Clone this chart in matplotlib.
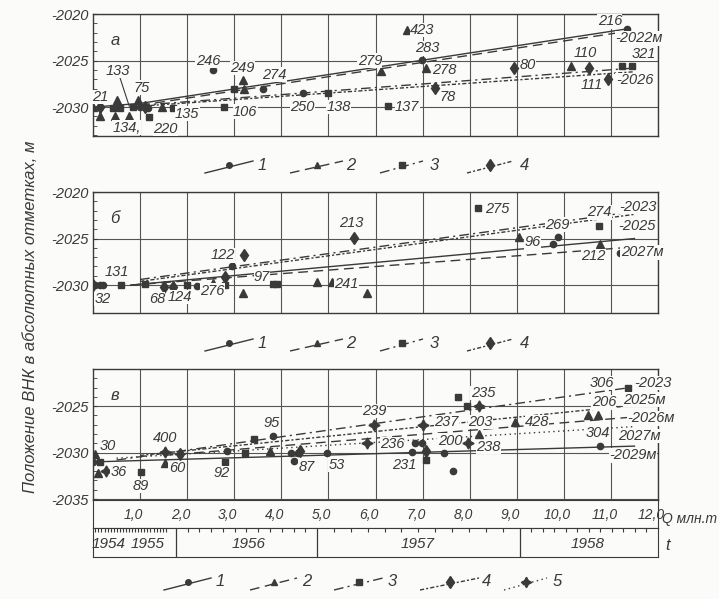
import numpy as np
import matplotlib.pyplot as plt

INK = '#3a3a3a'
BG = '#fbfbf9'
FONT = ['Liberation Sans Narrow', 'Liberation Sans', 'DejaVu Sans']

# --- panel а: points (Q, mln t ; contact level, m)
a1_q = [0.15, 1.0, 1.17, 2.55, 3.6, 4.47, 6.98, 11.34]
a1_h = [-2030.0, -2030.0, -2030.1, -2026.0, -2028.0, -2028.5, -2024.9, -2021.6]
a2_q = [0.0, 0.15, 0.47, 0.5, 0.77, 0.96, 1.46, 3.18, 3.2, 6.11, 6.67, 7.07, 10.15]
a2_h = [-2030.0, -2031.0, -2031.0, -2029.2, -2031.0, -2029.2, -2030.0, -2027.1, -2028.1,
        -2026.1, -2021.7, -2025.8, -2025.6]
a3_q = [0.43, 0.57, 0.85, 1.19, 1.7, 2.78, 3.0, 5.0, 6.27, 11.23, 11.44]
a3_h = [-2030.1, -2030.1, -2030.0, -2031.1, -2030.1, -2030.0, -2028.1, -2028.5, -2029.9,
        -2025.6, -2025.6]
a4_q = [0.15, 1.1, 7.26, 8.94, 10.53, 10.93]
a4_h = [-2030.0, -2030.0, -2027.9, -2025.8, -2025.8, -2027.0]
a_trend_q = {1: [0.0, 1.0, 11.34], 2: [1.0, 11.3], 3: [1.0, 11.5], 4: [1.0, 11.5]}
a_trend_h = {1: [-2030.0, -2029.6, -2021.6], 2: [-2029.8, -2021.9], 3: [-2029.8, -2025.8],
             4: [-2029.9, -2026.2]}
a_labels = [('21', 0.15, -2028.9), ('133', 0.53, -2026.1), ('75', 1.04, -2027.9),
            ('134,', 0.72, -2032.2), ('220', 1.53, -2032.3), ('135', 2.0, -2030.7),
            ('246', 2.44, -2025.0), ('249', 3.18, -2025.8), ('274', 3.86, -2026.5),
            ('106', 3.23, -2030.5), ('250', 4.44, -2030.0), ('138', 5.22, -2030.0),
            ('279', 5.88, -2025.0), ('137', 6.67, -2030.0), ('423', 7.0, -2021.7),
            ('283', 7.09, -2023.7), ('278', 7.47, -2026.0), ('78', 7.54, -2028.9),
            ('80', 9.24, -2025.5), ('110', 10.45, -2024.2), ('111', 10.6, -2027.6),
            ('216', 10.98, -2020.8), ('-2022м', 11.6, -2022.6), ('321', 11.7, -2024.3),
            ('-2026', 11.5, -2027.1)]

# --- panel б
b1_q = [0.05, 0.15, 0.22, 2.2, 2.95, 9.77, 9.88, 11.2]
b1_h = [-2030.0, -2030.0, -2030.0, -2030.1, -2027.9, -2025.6, -2024.8, -2026.5]
b2_q = [2.55, 3.18, 4.76, 5.07, 5.82, 9.05, 10.77]
b2_h = [-2029.8, -2030.9, -2029.7, -2029.7, -2030.8, -2024.8, -2025.6]
b3_q = [0.6, 1.1, 2.0, 2.8, 3.83, 3.9, 8.18, 10.75]
b3_h = [-2030.0, -2029.9, -2030.0, -2030.0, -2029.9, -2029.9, -2021.7, -2023.7]
b4_q = [0.0, 1.5, 1.7, 2.8, 3.2, 5.54]
b4_h = [-2030.0, -2030.2, -2030.2, -2029.1, -2026.8, -2024.9]
b_trend_q = {1: [0.8, 11.5], 2: [0.8, 11.5], 3: [1.0, 11.5], 4: [1.0, 11.5]}
b_trend_h = {1: [-2030.0, -2025.0], 2: [-2030.0, -2025.9], 3: [-2029.4, -2022.1],
             4: [-2029.6, -2022.4]}
b_labels = [('131', 0.51, -2028.6), ('32', 0.21, -2031.5), ('68', 1.36, -2031.5),
            ('124', 1.85, -2031.3), ('276', 2.53, -2030.6), ('122', 2.76, -2026.8),
            ('97', 3.59, -2029.1), ('213', 5.48, -2023.3), ('241', 5.39, -2029.9),
            ('275', 8.58, -2021.8), ('96', 9.34, -2025.4), ('269', 9.87, -2023.5),
            ('274', 10.76, -2022.2), ('212', 10.62, -2026.9), ('-2023', 11.57, -2021.6),
            ('-2025', 11.55, -2023.7), ('2027м', 11.66, -2026.5)]

# --- panel в
c1_q = [0.0, 2.85, 3.82, 4.2, 4.35, 4.27, 4.97, 6.77, 6.84, 6.98, 7.45, 7.65, 10.76]
c1_h = [-2031.0, -2029.8, -2028.2, -2030.0, -2030.0, -2030.9, -2030.0, -2029.9, -2029.0,
        -2029.0, -2030.0, -2032.0, -2029.3]
c2_q = [0.04, 0.1, 1.53, 3.76, 8.2, 8.96, 10.51, 10.72]
c2_h = [-2030.1, -2032.2, -2031.1, -2029.8, -2028.0, -2026.7, -2026.0, -2026.0]
c3_q = [0.15, 1.03, 2.8, 3.23, 3.42, 7.07, 7.75, 7.94, 11.36]
c3_h = [-2031.0, -2032.1, -2031.0, -2030.0, -2028.5, -2030.8, -2024.0, -2025.0, -2023.0]
c4_q = [1.85, 4.4, 7.07]
c4_h = [-2030.2, -2029.8, -2029.8]
c5_q = [0.28, 1.53, 5.82, 5.97, 7.0, 7.96, 8.2]
c5_h = [-2032.0, -2029.9, -2029.0, -2027.0, -2027.0, -2029.0, -2025.0]
c_trend_q = {1: [0.0, 11.5], 2: [1.5, 11.4], 3: [0.5, 11.4], 4: [1.0, 11.3], 5: [0.5, 11.5]}
c_trend_h = {1: [-2031.0, -2029.3], 2: [-2030.3, -2026.2], 3: [-2030.8, -2023.0],
             4: [-2030.3, -2025.0], 5: [-2030.6, -2027.2]}
c_labels = [('30', 0.32, -2029.3), ('36', 0.55, -2032.1), ('89', 1.02, -2033.6),
            ('400', 1.53, -2028.4), ('60', 1.78, -2031.7), ('92', 2.74, -2032.2),
            ('95', 3.8, -2026.8), ('87', 4.54, -2031.6), ('53', 5.18, -2031.3),
            ('239', 5.97, -2025.5), ('236', 6.35, -2029.1), ('231', 6.62, -2031.3),
            ('237', 7.51, -2026.7), ('203', 8.22, -2026.7), ('200', 7.58, -2028.7),
            ('238', 8.39, -2029.4), ('235', 8.28, -2023.6), ('428', 9.43, -2026.7),
            ('306', 10.8, -2022.5), ('-2023', 11.9, -2022.5), ('206', 10.85, -2024.6),
            ('2025м', 11.72, -2024.3), ('-2026м', 11.85, -2026.3), ('304', 10.72, -2027.9),
            ('2027м', 11.6, -2028.2), ('-2029м', 11.47, -2030.3)]

q_ticks = list(range(1, 13))
years = ['1954', '1955', '1956', '1957', '1958']
year_text_q = [0.34, 1.17, 3.3, 6.9, 10.5]
year_bounds_q = [1.76, 4.76, 9.06]

STYLES = {1: '-', 2: (0, (7, 4)), 3: (0, (7, 3, 1.5, 3)), 4: (0, (3, 1.5, 1.5, 1.5)),
          5: (0, (1, 2.5))}
MARKERS = {1: ('o', 4.5), 2: ('^', 5.5), 3: ('s', 4.5), 4: ('d', 6.5), 5: ((4, 1, 0), 8)}

W, H = 719, 599
fig = plt.figure(figsize=(W / 100, H / 100), dpi=100, facecolor=BG)


def px_axes(x0, y0, x1, y1):
    return fig.add_axes([x0 / W, 1 - y1 / H, (x1 - x0) / W, (y1 - y0) / H])


def txt(ax, x, y, s, size=10.5, **kw):
    return ax.text(x, y, s, fontsize=size, family=FONT, style='italic', color=INK, **kw)


def panel(box, ylim, yt, series, trends_q, trends_h, labels, letter):
    ax = px_axes(*box)
    ax.set_facecolor(BG)
    ax.set_xlim(0, 12)
    ax.set_ylim(*ylim)
    for s in ax.spines.values():
        s.set_color(INK)
        s.set_linewidth(1.0)
    ax.set_xticks(q_ticks)
    ax.set_xticklabels([])
    ax.tick_params(axis='x', length=0)
    ax.set_yticks(yt)
    ax.set_yticklabels([str(v) for v in yt], family=FONT, style='italic', fontsize=10.5,
                       color=INK)
    ax.set_yticks(np.arange(np.ceil(ylim[0]), ylim[1] + 0.1, 1), minor=True)
    ax.tick_params(axis='y', which='both', direction='in', length=3, color=INK, pad=3)
    ax.grid(True, color='#555', lw=0.8)
    for k in trends_q:
        ax.plot(trends_q[k], trends_h[k], color=INK, lw=1.0, linestyle=STYLES[k], zorder=3)
    for k, (q, h) in series.items():
        m, ms = MARKERS[k]
        ax.plot(q, h, linestyle='none', marker=m, ms=ms, color=INK, mec=INK, zorder=4)
    for s, q, h in labels:
        t = txt(ax, q, h, s, ha='center', va='center', zorder=5, clip_on=False)
        t.set_bbox(dict(facecolor=BG, edgecolor='none', pad=0.2))
    txt(ax, 0.47, ylim[1] - 2.8, letter, size=12, ha='center', va='center')
    return ax


ax_a = panel((93, 14, 658, 136), (-2033.1, -2020), [-2030, -2025, -2020],
             {1: (a1_q, a1_h), 2: (a2_q, a2_h), 3: (a3_q, a3_h), 4: (a4_q, a4_h)},
             a_trend_q, a_trend_h, a_labels, 'а')
ax_a.plot([0.57, 0.77], [-2026.8, -2029.9], color=INK, lw=0.8)

ax_b = panel((93, 192, 658, 313), (-2033.0, -2020), [-2030, -2025, -2020],
             {1: (b1_q, b1_h), 2: (b2_q, b2_h), 3: (b3_q, b3_h), 4: (b4_q, b4_h)},
             b_trend_q, b_trend_h, b_labels, 'б')

ax_c = panel((93, 369, 658, 500), (-2035.1, -2021.0), [-2035, -2030, -2025],
             {1: (c1_q, c1_h), 2: (c2_q, c2_h), 3: (c3_q, c3_h), 4: (c4_q, c4_h),
              5: (c5_q, c5_h)},
             c_trend_q, c_trend_h, c_labels, 'в')

# Q row
axq = px_axes(93, 500, 658, 528)
axq.set_facecolor(BG)
axq.set_xlim(0, 12)
axq.set_ylim(0, 1)
axq.set_xticks([])
axq.set_yticks([])
for s in axq.spines.values():
    s.set_color(INK)
for q in q_ticks:
    txt(axq, q - 0.14, 0.45, f'{q},0', size=10, ha='center', va='center')

# time row
axt = px_axes(93, 528, 658, 557)
axt.set_facecolor(BG)
axt.set_xlim(0, 12)
axt.set_ylim(0, 1)
axt.set_yticks([])
for s in axt.spines.values():
    s.set_color(INK)
month_ticks = list(np.arange(0.05, 1.6, 0.065))
for e0, e1 in zip(year_bounds_q, year_bounds_q[1:] + [12.0]):
    month_ticks += list(np.linspace(e0, e1, 13)[1:-1])
axt.set_xticks(month_ticks)
axt.set_xticklabels([])
axt.tick_params(axis='x', direction='in', top=True, bottom=False, length=3, color=INK)
for b in year_bounds_q:
    axt.axvline(b, color=INK, lw=0.9)
for y, q in zip(years, year_text_q):
    txt(axt, q, 0.45, y, size=11, ha='center', va='center')

# overlay for legends and outer text (pixel coordinates)
ov = fig.add_axes([0, 0, 1, 1])
ov.set_xlim(0, W)
ov.set_ylim(H, 0)
ov.axis('off')
ov.patch.set_alpha(0)


def legend_row(items, yc):
    for k, (x0, x1, xt) in enumerate(items, start=1):
        ov.plot([x0, x1], [yc + 6, yc - 6], color=INK, lw=1.0, linestyle=STYLES[k])
        m, ms = MARKERS[k]
        ov.plot([(x0 + x1) / 2], [yc - 2], marker=m, ms=ms - 0.5, color=INK)
        txt(ov, xt, yc - 2, str(k), size=12, ha='left', va='center')


legend_row([(205, 253, 258), (290, 343, 346), (380, 423, 430), (467, 513, 520)], 167)
legend_row([(205, 253, 258), (290, 343, 346), (380, 423, 430), (467, 513, 520)], 345)
legend_row([(164, 211, 216), (250, 297, 302), (334, 383, 388), (420, 479, 482),
            (504, 547, 553)], 584)

txt(ov, 31, 317, 'Положение ВНК в абсолютных отметках, м', size=12, rotation=90,
    ha='center', va='center')
txt(ov, 662, 519, 'Q млн.т', size=10, ha='left', va='center')
txt(ov, 665, 545, 't', size=12, ha='left', va='center')

fig.savefig('out.png', dpi=100, facecolor=BG)
